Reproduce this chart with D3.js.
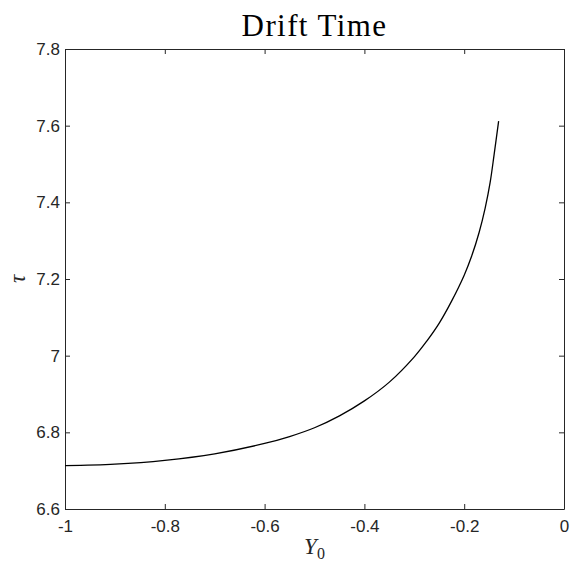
<!DOCTYPE html>
<html>
<head>
<meta charset="utf-8">
<script src="https://cdn.jsdelivr.net/npm/d3@7"></script>
<style>
  body { margin: 0; background: #fff; }
  svg { display: block; }
</style>
</head>
<body>
<div id="chart"></div>
<script>
// Values
const y0Values = [-1, -0.9, -0.8, -0.7, -0.6, -0.55, -0.5, -0.45, -0.4, -0.35, -0.3, -0.275, -0.25, -0.225, -0.2, -0.185, -0.17, -0.158, -0.148, -0.14, -0.131];
const tauValues = [6.713, 6.717, 6.727, 6.744, 6.771, 6.789, 6.812, 6.843, 6.882, 6.931, 6.997, 7.038, 7.085, 7.143, 7.21, 7.26, 7.322, 7.385, 7.452, 7.525, 7.612];

const xTicks = [-1, -0.8, -0.6, -0.4, -0.2, 0];
const yTicks = [6.6, 6.8, 7, 7.2, 7.4, 7.6, 7.8];

const width = 570;
const height = 571;
const margin = { top: 49, right: 6, bottom: 62, left: 65 };
const innerW = width - margin.left - margin.right;
const innerH = height - margin.top - margin.bottom;

const svg = d3.select("#chart")
    .append("svg")
    .attr("width", width)
    .attr("height", height);

const g = svg.append("g")
    .attr("transform", `translate(${margin.left},${margin.top})`);

const x = d3.scaleLinear().domain([-1, 0]).range([0, innerW]);
const y = d3.scaleLinear().domain([6.6, 7.8]).range([innerH, 0]);

const axisColor = "#262626";
const tickFont = "'Liberation Sans', Arial, sans-serif";

// bottom + left axes carry the labels, top + right only ticks (box on)
const xAxis = g.append("g")
    .attr("transform", `translate(0,${innerH})`)
    .call(d3.axisBottom(x).tickValues(xTicks).tickFormat(d => String(d))
        .tickSizeInner(-5).tickSizeOuter(0).tickPadding(11));

const yAxis = g.append("g")
    .call(d3.axisLeft(y).tickValues(yTicks).tickFormat(d => String(d))
        .tickSizeInner(-5).tickSizeOuter(0).tickPadding(5));

const xAxisTop = g.append("g")
    .call(d3.axisTop(x).tickValues(xTicks).tickFormat("")
        .tickSizeInner(-5).tickSizeOuter(0));

const yAxisRight = g.append("g")
    .attr("transform", `translate(${innerW},0)`)
    .call(d3.axisRight(y).tickValues(yTicks).tickFormat("")
        .tickSizeInner(-5).tickSizeOuter(0));

[xAxis, yAxis, xAxisTop, yAxisRight].forEach(a => {
    a.selectAll("path, line").attr("stroke", axisColor).attr("stroke-width", 1);
    a.selectAll("text")
        .attr("fill", axisColor)
        .style("font-family", tickFont)
        .style("font-size", "17px");
});

// the curve
const line = d3.line()
    .x((d, i) => x(y0Values[i]))
    .y(d => y(d))
    .curve(d3.curveCatmullRom.alpha(0.5));

g.append("path")
    .datum(tauValues)
    .attr("fill", "none")
    .attr("stroke", "#000")
    .attr("stroke-width", 1.3)
    .attr("d", line);

// title
svg.append("text")
    .attr("x", margin.left + innerW / 2)
    .attr("y", 36)
    .attr("text-anchor", "middle")
    .style("font-family", "'Liberation Serif', 'Times New Roman', serif")
    .style("font-size", "31px")
    .style("letter-spacing", "1.4px")
    .attr("fill", "#000")
    .text("Drift Time");

// x label Y_0
const xLabel = svg.append("text")
    .attr("x", margin.left + innerW / 2)
    .attr("y", 554)
    .attr("text-anchor", "middle")
    .style("font-family", "'Liberation Serif', 'Times New Roman', serif")
    .style("font-size", "23px")
    .attr("fill", "#262626");
xLabel.append("tspan").style("font-style", "italic").text("Y");
xLabel.append("tspan").attr("dy", 5).style("font-size", "16px").text("0");

// y label tau
svg.append("text")
    .attr("transform", `translate(25,${margin.top + innerH / 2}) rotate(-90)`)
    .attr("text-anchor", "middle")
    .style("font-family", "'Liberation Serif', 'Times New Roman', serif")
    .style("font-size", "23px")
    .style("font-style", "italic")
    .attr("fill", "#262626")
    .text("τ");
</script>
</body>
</html>
